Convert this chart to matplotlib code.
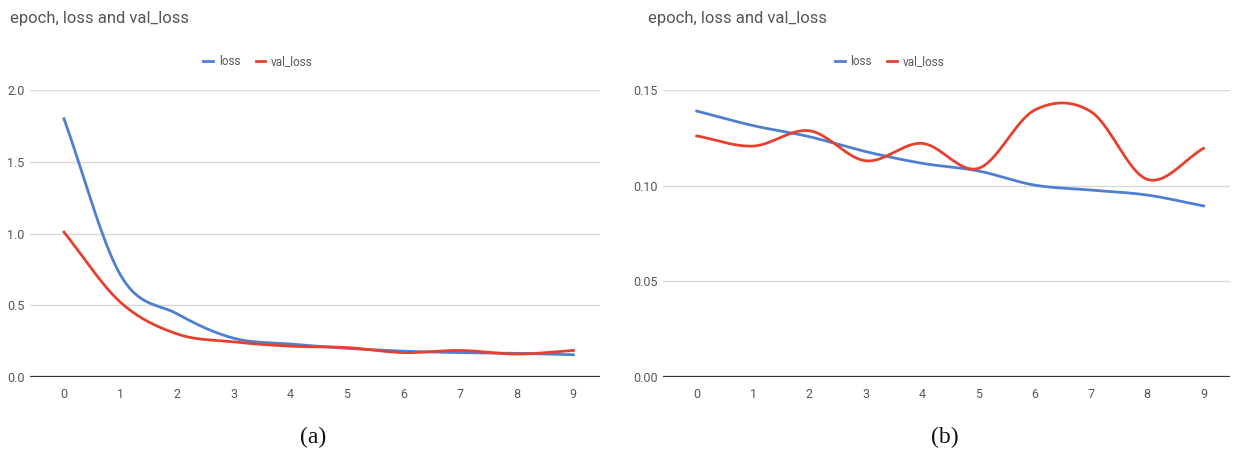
"""Two-panel training curve chart: epoch vs loss / val_loss."""

import matplotlib

matplotlib.use("Agg")
import matplotlib.pyplot as plt  # noqa: E402
import numpy as np  # noqa: E402

epochs = [0, 1, 2, 3, 4, 5, 6, 7, 8, 9]

# panel (a)
loss_a = [1.80, 0.71, 0.44, 0.27, 0.23, 0.20, 0.18, 0.17, 0.165, 0.155]
val_loss_a = [1.01, 0.52, 0.30, 0.245, 0.215, 0.205, 0.17, 0.185, 0.16, 0.185]

# panel (b)
loss_b = [0.139, 0.1314, 0.1256, 0.1178, 0.1117, 0.1077, 0.1003, 0.0977, 0.0951, 0.0894]
val_loss_b = [0.126, 0.1207, 0.1287, 0.1130, 0.1221, 0.1090, 0.1395, 0.1387, 0.1033, 0.1195]

yticks_a = [0.0, 0.5, 1.0, 1.5, 2.0]
yticks_b = [0.00, 0.05, 0.10, 0.15]

BLUE = "#4f7fd2"
RED = "#e8402e"
TXT = "#5a5555"
GRID = "#d9d9d9"

plt.rcParams["font.family"] = ["Roboto", "DejaVu Sans"]


def smooth(x, y, n=20):
    # Catmull-Rom style curve through the points (like a "function" curve)
    x = np.asarray(x, float)
    y = np.asarray(y, float)
    xs, ys = [], []
    for i in range(len(x) - 1):
        y0 = y[i - 1] if i > 0 else y[i]
        y3 = y[i + 2] if i + 2 < len(y) else y[i + 1]
        m1 = (y[i + 1] - y0) / (2 if i > 0 else 1)
        m2 = (y3 - y[i]) / (2 if i + 2 < len(y) else 1)
        t = np.linspace(0, 1, n, endpoint=False)
        h00 = 2 * t**3 - 3 * t**2 + 1
        h10 = t**3 - 2 * t**2 + t
        h01 = -2 * t**3 + 3 * t**2
        h11 = t**3 - t**2
        xs.append(x[i] + t * (x[i + 1] - x[i]))
        ys.append(h00 * y[i] + h10 * m1 + h01 * y[i + 1] + h11 * m2)
    xs.append([x[-1]])
    ys.append([y[-1]])
    return np.concatenate(xs), np.concatenate(ys)


def panel(fig, rect, loss, val_loss, yticks, fmt, title_x, caption, caption_x):
    ax = fig.add_axes(rect)
    for s in ax.spines.values():
        s.set_visible(False)
    ax.set_xlim(-0.6, 9.47)
    ax.set_ylim(yticks[0], yticks[-1])
    ax.set_yticks(yticks)
    ax.set_yticklabels([fmt.format(v) for v in yticks])
    ax.set_xticks(epochs)
    ax.tick_params(length=0, labelsize=9, colors=TXT, pad=8)
    ax.tick_params(axis="y", pad=4)
    ax.grid(axis="y", color=GRID, lw=1)
    ax.axhline(yticks[0], color="#333333", lw=1.6, zorder=3)
    xs, ys = smooth(epochs, loss)
    ax.plot(xs, ys, color=BLUE, lw=2, label="loss", zorder=4, clip_on=False)
    xs, ys = smooth(epochs, val_loss)
    ax.plot(xs, ys, color=RED, lw=2, label="val_loss", zorder=4, clip_on=False)
    ax.legend(loc="lower center", bbox_to_anchor=(0.40, 1.06), ncol=2, frameon=False,
              handlelength=0.8, handletextpad=0.5, columnspacing=1.3,
              fontsize=8.5, labelcolor=TXT, borderaxespad=0)
    fig.text(title_x, 1 - 18 / 455, "epoch, loss and val_loss", fontsize=12,
             color=TXT, va="center", ha="left")
    fig.text(caption_x, 1 - 437 / 455, caption, fontsize=17, ha="center",
             va="center", family="Liberation Serif", color="#111111")
    return ax


W, H = 1235, 455
fig = plt.figure(figsize=(W / 100, H / 100), dpi=100)
panel(fig, [30 / W, 1 - 377 / H, 570 / W, 287 / H], loss_a, val_loss_a, yticks_a,
      "{:.1f}", 10 / W, "(a)", 313 / W)
panel(fig, [663 / W, 1 - 377 / H, 567 / W, 287 / H], loss_b, val_loss_b, yticks_b,
      "{:.2f}", 648 / W, "(b)", 945 / W)
fig.savefig("out.png", dpi=100)
